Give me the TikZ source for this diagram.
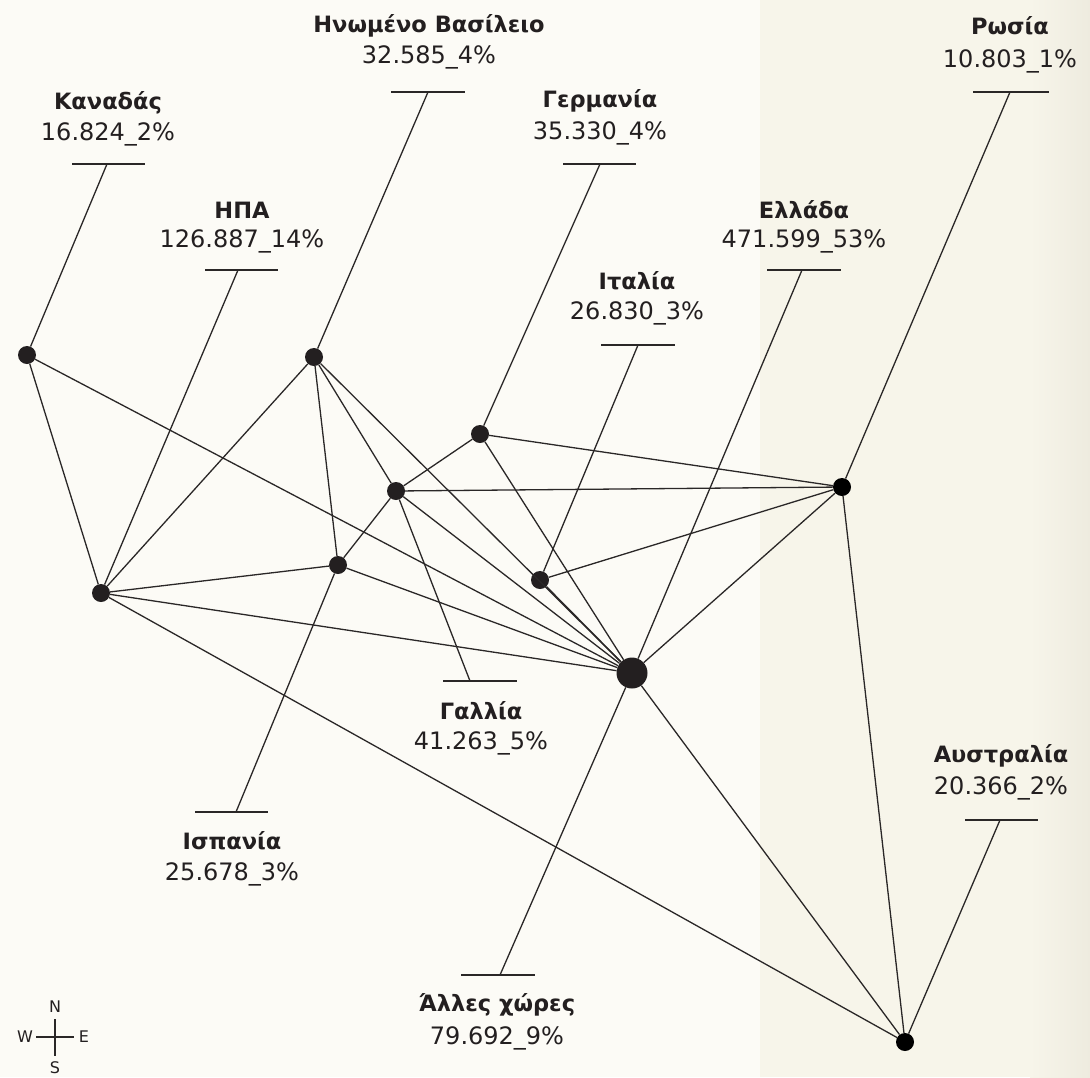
\documentclass[tikz,border=0pt]{standalone}
\usepackage{fontspec}
\setmainfont{DejaVu Sans}
\begin{document}
\begin{tikzpicture}[x=1pt,y=-1pt,
  dot/.style={circle,fill=nodecol,draw=none,inner sep=0pt,minimum size=18pt},
  bigdot/.style={dot,minimum size=31pt},
  cname/.style={font=\fontsize{22.5}{25}\selectfont\bfseries,text=txtcol,inner sep=0pt},
  cval/.style={font=\fontsize{24}{26}\selectfont,text=txtcol,inner sep=0pt},
  edge/.style={draw=linecol,line width=1.3pt},
  compass/.style={font=\fontsize{16}{17}\selectfont,text=txtcol,inner sep=0pt}]
\definecolor{bgL}{HTML}{FCFBF6}
\definecolor{bgR}{HTML}{F7F5EA}
\definecolor{bgRR}{HTML}{EEEBDF}
\definecolor{nodecol}{HTML}{231F20}
\definecolor{linecol}{HTML}{2A2727}
\definecolor{txtcol}{HTML}{231F20}
% background
\fill[bgL] (0,0) rectangle (760,1077);
\fill[bgR] (760,0) rectangle (1090,1077);
\shade[left color=bgR,right color=bgRR,shading angle=90] (1030,0) rectangle (1090,1077);
\useasboundingbox (0,0) rectangle (1090,1077);
% network nodes
\node[dot] (can) at (27,355) {};
\node[dot] (usa) at (101,593) {};
\node[dot] (uk) at (314,357) {};
\node[dot] (esp) at (338,565) {};
\node[dot] (fra) at (396,491) {};
\node[dot] (ger) at (480,434) {};
\node[dot] (ita) at (540,580) {};
\node[bigdot] (gre) at (632,673) {};
\node[dot,fill=black] (rus) at (842,487) {};
\node[dot,fill=black] (aus) at (905,1042) {};
% labels
\node[cname] (canN) at (108,103) {Καναδάς};
\node[cval] (canV) at (108,134) {16.824\_2\%};
\node[cname] (usaN) at (242,210) {ΗΠΑ};
\node[cval] (usaV) at (242,241) {126.887\_14\%};
\node[cname] (ukN) at (429,26) {Ηνωμένο Βασίλειο};
\node[cval] (ukV) at (429,57) {32.585\_4\%};
\node[cname] (gerN) at (600,101) {Γερμανία};
\node[cval] (gerV) at (600,133) {35.330\_4\%};
\node[cname] (greN) at (804,210) {Ελλάδα};
\node[cval] (greV) at (804,241) {471.599\_53\%};
\node[cname] (itaN) at (637,281) {Ιταλία};
\node[cval] (itaV) at (637,313) {26.830\_3\%};
\node[cname] (rusN) at (1010,26) {Ρωσία};
\node[cval] (rusV) at (1010,61) {10.803\_1\%};
\node[cname] (fraN) at (481,711) {Γαλλία};
\node[cval] (fraV) at (481,743) {41.263\_5\%};
\node[cname] (espN) at (232,841) {Ισπανία};
\node[cval] (espV) at (232,874) {25.678\_3\%};
\node[cname] (ausN) at (1001,756) {Αυστραλία};
\node[cval] (ausV) at (1001,788) {20.366\_2\%};
\node[cname] (othN) at (497,1005) {Άλλες χώρες};
\node[cval] (othV) at (497,1038) {79.692\_9\%};
% leader bars
\coordinate (canA) at (72,164); \coordinate (canB) at (145,164); \coordinate (canT) at (107,164);
\coordinate (usaA) at (205,270); \coordinate (usaB) at (278,270); \coordinate (usaT) at (238,270);
\coordinate (ukA) at (391,92); \coordinate (ukB) at (465,92); \coordinate (ukT) at (428,92);
\coordinate (gerA) at (563,164); \coordinate (gerB) at (636,164); \coordinate (gerT) at (600,164);
\coordinate (greA) at (767,270); \coordinate (greB) at (841,270); \coordinate (greT) at (802,270);
\coordinate (itaA) at (601,345); \coordinate (itaB) at (675,345); \coordinate (itaT) at (638,345);
\coordinate (rusA) at (973,92); \coordinate (rusB) at (1049,92); \coordinate (rusT) at (1010,92);
\coordinate (fraA) at (443,681); \coordinate (fraB) at (517,681); \coordinate (fraT) at (470,681);
\coordinate (espA) at (195,812); \coordinate (espB) at (268,812); \coordinate (espT) at (236,812);
\coordinate (ausA) at (965,820); \coordinate (ausB) at (1038,820); \coordinate (ausT) at (1000,820);
\coordinate (othA) at (461,975); \coordinate (othB) at (535,975); \coordinate (othT) at (500,975);
\foreach \n in {can,usa,uk,ger,gre,ita,rus,fra,esp,aus,oth}{
  \draw[edge] (\n A) -- (\n B);
}
\draw[edge] (canT) -- (can);
\draw[edge] (usaT) -- (usa);
\draw[edge] (ukT) -- (uk);
\draw[edge] (gerT) -- (ger);
\draw[edge] (greT) -- (gre);
\draw[edge] (itaT) -- (ita);
\draw[edge] (rusT) -- (rus);
\draw[edge] (fraT) -- (fra);
\draw[edge] (espT) -- (esp);
\draw[edge] (ausT) -- (aus);
\draw[edge] (othT) -- (gre);
% network edges
\draw[edge] (can) -- (usa);
\draw[edge] (can) -- (gre);
\draw[edge] (usa) -- (uk);
\draw[edge] (usa) -- (esp);
\draw[edge] (usa) -- (gre);
\draw[edge] (usa) -- (aus);
\draw[edge] (uk) -- (esp);
\draw[edge] (uk) -- (fra);
\draw[edge] (uk) -- (gre);
\draw[edge] (fra) -- (ger);
\draw[edge] (fra) -- (rus);
\draw[edge] (fra) -- (gre);
\draw[edge] (fra) -- (esp);
\draw[edge] (ger) -- (rus);
\draw[edge] (ger) -- (gre);
\draw[edge] (ita) -- (rus);
\draw[edge] (ita) -- (gre);
\draw[edge] (esp) -- (gre);
\draw[edge] (gre) -- (rus);
\draw[edge] (gre) -- (aus);
\draw[edge] (rus) -- (aus);
% compass
\node[compass] (cN) at (55,1007) {N};
\node[compass] (cS) at (55,1068) {S};
\node[compass] (cW) at (25,1037) {W};
\node[compass] (cE) at (84,1037) {E};
\coordinate (cx1) at (36,1037); \coordinate (cx2) at (74,1037);
\coordinate (cy1) at (55,1019); \coordinate (cy2) at (55,1056);
\draw[edge,line width=1.6pt] (cx1) -- (cx2);
\draw[edge,line width=1.6pt] (cy1) -- (cy2);
\end{tikzpicture}
\end{document}
